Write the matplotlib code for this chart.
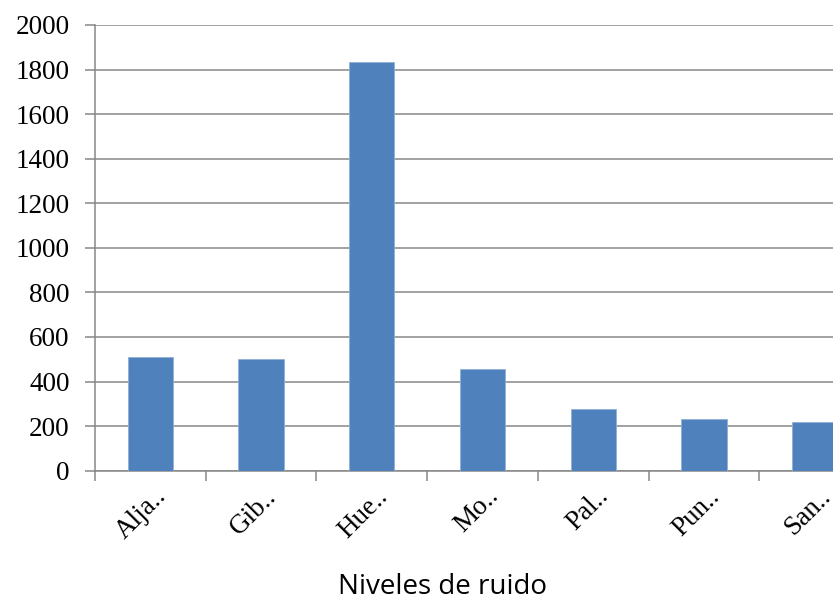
import matplotlib
matplotlib.use("Agg")
import matplotlib.pyplot as plt
from matplotlib.ticker import MultipleLocator
from matplotlib.transforms import ScaledTranslation, blended_transform_factory

categories = ["Alja..", "Gib..", "Hue..", "Mo..", "Pal..", "Pun..", "San.."]
values = [509, 503, 1835, 455, 275, 231, 218]
title = "Niveles de ruido"

W, H = 833, 601
fig = plt.figure(figsize=(W / 100, H / 100), dpi=100)
# plot area runs past the right edge, so the last column is cut off
x0, x1 = 95, 870
y0, y1 = 470.7, 25
ax = fig.add_axes([x0 / W, 1 - y0 / H, (x1 - x0) / W, (y0 - y1) / H])

grid_c = "#878787"
bar_c = "#4F81BD"
tick_font = "Liberation Serif"
tick_size = 19.5

xs = list(range(len(categories)))
ax.bar(xs, values, width=0.41, color=bar_c, edgecolor="#8fb0d8", linewidth=0.6, zorder=3)
ax.set_xlim(-0.5, len(categories) - 0.5)
ax.set_ylim(0, 2000)
ax.yaxis.set_major_locator(MultipleLocator(200))
ax.yaxis.grid(True, color=grid_c, linewidth=1.1, zorder=0)

for s in ["top", "right"]:
    ax.spines[s].set_visible(False)
for s in ["left", "bottom"]:
    ax.spines[s].set_color(grid_c)
    ax.spines[s].set_linewidth(1.1)

# tick marks sit between categories; names are placed under each bar
ax.set_xticks([i - 0.5 for i in xs])
ax.set_xticklabels([])
ax.tick_params(axis="x", length=7.2, width=1.1, color=grid_c)
ax.tick_params(axis="y", length=7.2, width=1.1, color=grid_c, pad=11)
for lbl in ax.get_yticklabels():
    lbl.set_family(tick_font)
    lbl.set_fontsize(tick_size)

base = blended_transform_factory(ax.transData, ax.transAxes)
offset = ScaledTranslation(12 / 100, -22 / 100, fig.dpi_scale_trans)
for i, name in zip(xs, categories):
    ax.text(i, 0, name, transform=base + offset, rotation=45,
            rotation_mode="anchor", ha="right", va="center",
            family=tick_font, fontsize=tick_size, clip_on=False)

fig.text(442 / W, 1 - 594 / H, title, ha="center", va="baseline",
         family="Open Sans", fontsize=20, color="black")

fig.savefig("out.png", dpi=100)
